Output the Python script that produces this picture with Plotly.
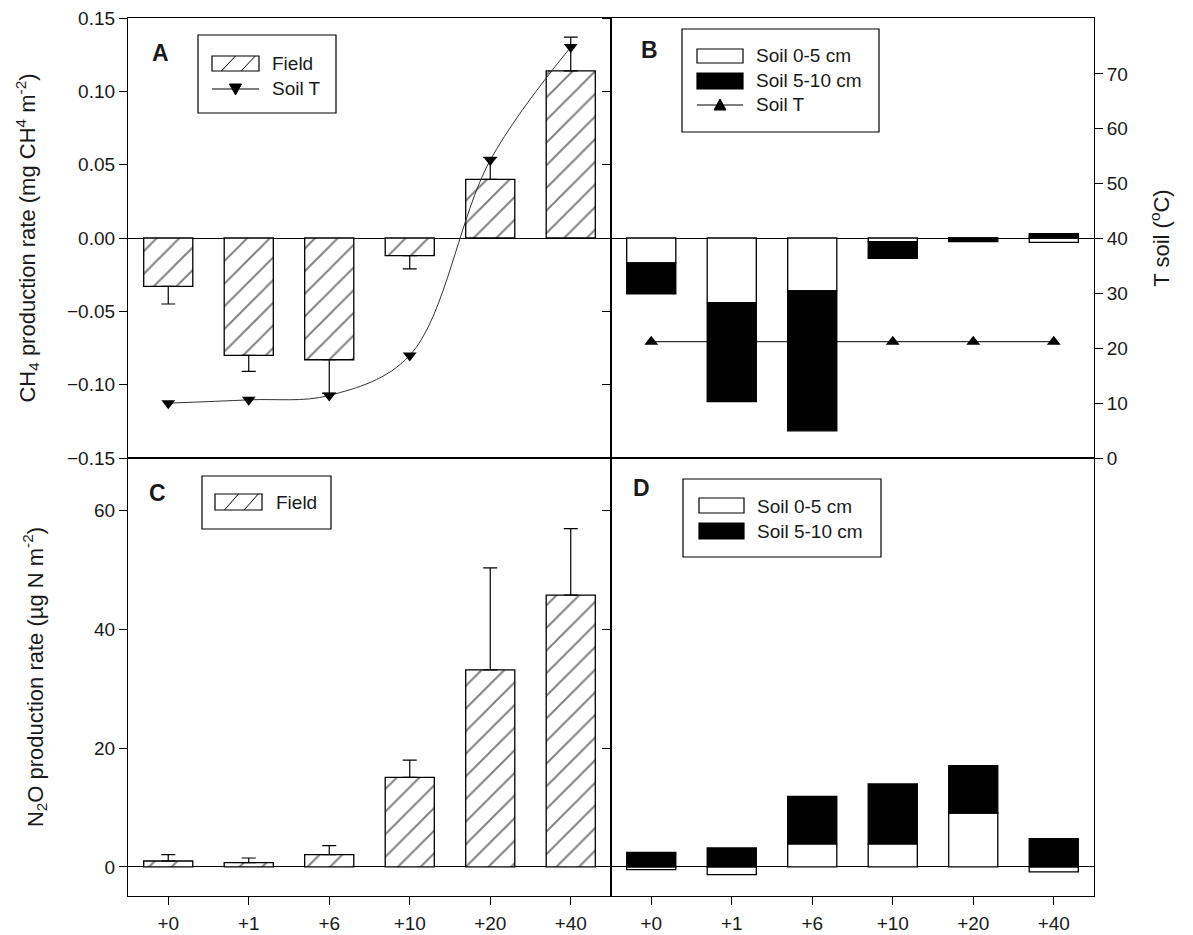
import plotly.graph_objects as go

# ---------------- data ----------------
categories = ["+0", "+1", "+6", "+10", "+20", "+40"]

# Panel A: CH4 field production + soil temperature
ch4_field = [-0.033, -0.080, -0.083, -0.012, 0.040, 0.114]
ch4_field_err = [0.012, 0.011, 0.023, 0.009, 0.015, 0.023]
soil_t_field = [10.0, 10.6, 11.4, 18.7, 54.3, 74.9]

# Panel B: CH4 soil cores (stacked) + soil temperature
ch4_soil_0_5 = [-0.017, -0.044, -0.036, -0.0025, 0.0, -0.003]
ch4_soil_5_10 = [-0.021, -0.0675, -0.0955, -0.0114, -0.0025, 0.003]
soil_t_cores = [21.2, 21.2, 21.2, 21.2, 21.2, 21.2]

# Panel C: N2O field production
n2o_field = [1.0, 0.73, 2.07, 15.1, 33.2, 45.8]
n2o_field_err = [1.07, 0.77, 1.53, 2.9, 17.2, 11.2]

# Panel D: N2O soil cores (stacked)
n2o_soil_0_5 = [-0.45, -1.3, 3.87, 3.87, 9.07, -0.84]
n2o_soil_5_10 = [2.46, 3.2, 8.0, 10.1, 8.0, 4.76]

# ---------------- styling ----------------
FONT = "Liberation Sans, Arial, sans-serif"
TXT = "#1a1a1a"
LW = 1.3
TICKF = 19
TITLEF = 22
LEGF = 19

W, H = 1193, 935
L, R, T, B = 128, 1094, 18, 896
YB = (896 - 458) / (B - T)


def px(x):
    return (x - L) / (R - L)


def py(y):
    return (B - y) / (B - T)


up_err = [e if v >= 0 else 0 for v, e in zip(ch4_field, ch4_field_err)]
dn_err = [e if v < 0 else 0 for v, e in zip(ch4_field, ch4_field_err)]

hatch = dict(shape="/", fgcolor="black", bgcolor="white", size=16, solidity=0.12)

fig = go.Figure()

# A
fig.add_trace(go.Bar(x=categories, y=ch4_field, width=0.61, xaxis="x", yaxis="y",
                     marker=dict(color="white", pattern=hatch, line=dict(color="black", width=LW)),
                     error_y=dict(type="data", symmetric=False, array=up_err, arrayminus=dn_err,
                                  color="black", thickness=1.2, width=7),
                     name="Field", showlegend=False))
fig.add_trace(go.Scatter(x=categories, y=soil_t_field, xaxis="x", yaxis="y5",
                         mode="lines+markers", line=dict(color="#333333", width=1, shape="spline"),
                         marker=dict(symbol="triangle-down", size=12, color="black"),
                         name="Soil T", showlegend=False))

# B
fig.add_trace(go.Bar(x=categories, y=ch4_soil_0_5, width=0.61, xaxis="x2", yaxis="y2",
                     marker=dict(color="white", line=dict(color="black", width=LW)),
                     name="Soil 0-5 cm", showlegend=False))
fig.add_trace(go.Bar(x=categories, y=ch4_soil_5_10, width=0.61, xaxis="x2", yaxis="y2",
                     marker=dict(color="black", line=dict(color="black", width=LW)),
                     name="Soil 5-10 cm", showlegend=False))
fig.add_trace(go.Scatter(x=categories, y=soil_t_cores, xaxis="x2", yaxis="y6",
                         mode="lines+markers", line=dict(color="black", width=1),
                         marker=dict(symbol="triangle-up", size=12, color="black"),
                         name="Soil T", showlegend=False))

# C
fig.add_trace(go.Bar(x=categories, y=n2o_field, width=0.61, xaxis="x3", yaxis="y3",
                     marker=dict(color="white", pattern=hatch, line=dict(color="black", width=LW)),
                     error_y=dict(type="data", symmetric=False, array=n2o_field_err,
                                  arrayminus=[0] * len(n2o_field_err),
                                  color="black", thickness=1.2, width=7),
                     name="Field", showlegend=False))

# D
fig.add_trace(go.Bar(x=categories, y=n2o_soil_0_5, width=0.61, xaxis="x4", yaxis="y4",
                     marker=dict(color="white", line=dict(color="black", width=LW)),
                     name="Soil 0-5 cm", showlegend=False))
fig.add_trace(go.Bar(x=categories, y=n2o_soil_5_10, width=0.61, xaxis="x4", yaxis="y4",
                     marker=dict(color="black", line=dict(color="black", width=LW)),
                     name="Soil 5-10 cm", showlegend=False))

axis_common = dict(showline=True, linecolor="black", linewidth=LW, mirror=True, automargin=False,
                   showgrid=False, tickcolor="black", tickfont=dict(family=FONT, size=TICKF, color=TXT))

xcat_hidden = dict(axis_common, type="category", ticks="", showticklabels=False,
                   range=[-0.5, 5.5])
xcat_shown = dict(axis_common, type="category", ticks="outside", ticklen=8, tickwidth=1.2,
                  ticklabelstandoff=2, range=[-0.5, 5.5])

ych4 = dict(axis_common, range=[-0.15, 0.15], tickvals=[-0.15, -0.10, -0.05, 0, 0.05, 0.10, 0.15],
            tickformat=".2f", ticks="outside", ticklen=8, tickwidth=1.2,
            zeroline=True, zerolinecolor="black", zerolinewidth=LW)
yn2o = dict(axis_common, range=[-4.9, 68.9], tickvals=[0, 20, 40, 60],
            ticks="outside", ticklen=8, tickwidth=1.2,
            zeroline=True, zerolinecolor="black", zerolinewidth=LW)

fig.update_layout(
    width=W, height=H, autosize=False,
    margin=dict(l=L, r=W - R, t=T, b=H - B),
    plot_bgcolor="white", paper_bgcolor="white",
    barmode="relative", bargap=0.39,
    font=dict(family=FONT, size=18, color=TXT),
    showlegend=False,
    xaxis=dict(xcat_hidden, domain=[0, 0.5], anchor="y"),
    yaxis=dict(ych4, domain=[YB, 1], anchor="x",
               title=dict(text="CH<sub>4</sub> production rate (mg CH<sup>4</sup> m<sup>-2</sup>)",
                          font=dict(family=FONT, size=TITLEF, color=TXT), standoff=25)),
    xaxis2=dict(xcat_hidden, domain=[0.5, 1], anchor="y2"),
    yaxis2=dict(ych4, domain=[YB, 1], anchor="x2", showticklabels=False),
    xaxis3=dict(xcat_shown, domain=[0, 0.5], anchor="y3"),
    yaxis3=dict(yn2o, domain=[0, YB], anchor="x3",
                title=dict(text="N<sub>2</sub>O production rate (µg N m<sup>-2</sup>)",
                           font=dict(family=FONT, size=TITLEF, color=TXT), standoff=44)),
    xaxis4=dict(xcat_shown, domain=[0.5, 1], anchor="y4"),
    yaxis4=dict(yn2o, domain=[0, YB], anchor="x4", showticklabels=False),
    yaxis5=dict(overlaying="y", anchor="x", range=[0, 80.2], visible=False),
    yaxis6=dict(overlaying="y2", anchor="x2", side="right", range=[0, 80.2], automargin=False,
                tickvals=[0, 10, 20, 30, 40, 50, 60, 70], ticks="outside", ticklen=8, tickwidth=1.2,
                tickcolor="black", showgrid=False, zeroline=False, showline=False,
                tickfont=dict(family=FONT, size=TICKF, color=TXT),
                title=dict(text="T soil (<sup>o</sup>C)", font=dict(family=FONT, size=TITLEF, color=TXT),
                           standoff=26)),
)

# ---------------- hand-drawn legends & panel letters ----------------
shapes = []
annotations = []


def rect(x0, y0, x1, y1, fill="white", lw=1.2):
    shapes.append(dict(type="rect", xref="paper", yref="paper", x0=px(x0), x1=px(x1),
                       y0=py(y1), y1=py(y0), fillcolor=fill, line=dict(color="black", width=lw),
                       layer="above"))


def seg(x0, y0, x1, y1, lw=1.0):
    shapes.append(dict(type="line", xref="paper", yref="paper", x0=px(x0), x1=px(x1),
                       y0=py(y0), y1=py(y1), line=dict(color="black", width=lw), layer="above"))


def tri(x, y, down):
    path = "M-6,5L6,5L0,-6Z" if down else "M-6,-5L6,-5L0,6Z"
    shapes.append(dict(type="path", xref="paper", yref="paper", xsizemode="pixel", ysizemode="pixel",
                       xanchor=px(x), yanchor=py(y), path=path, fillcolor="black",
                       line=dict(color="black", width=1), layer="above"))


def label(x, y, text, size=LEGF, bold=False, anchor="left"):
    annotations.append(dict(xref="paper", yref="paper", x=px(x), y=py(y), text=f"<b>{text}</b>" if bold else text,
                            showarrow=False, xanchor=anchor, yanchor="middle",
                            font=dict(family=FONT, size=size, color=TXT)))


def hatched_swatch(x0, y0, x1, y1):
    rect(x0, y0, x1, y1)
    w = x1 - x0
    seg(x0 + 0.2 * w, y1, x0 + 0.5 * w, y0)
    seg(x0 + 0.62 * w, y1, x0 + 0.92 * w, y0)


# Legend A
rect(198, 35, 336, 113)
hatched_swatch(212, 56, 259, 71)
seg(212, 89, 259, 89)
tri(235.5, 89, True)
label(270, 63, "Field")
label(270, 89, "Soil T")

# Legend B
rect(682, 29, 879, 132)
rect(697, 49, 743, 63)
rect(697, 73, 743, 89, fill="black")
seg(697, 105, 743, 105)
tri(720, 105, False)
label(754, 56, "Soil 0-5 cm")
label(754, 81, "Soil 5-10 cm")
label(754, 105, "Soil T")

# Legend C
rect(202, 476, 331, 529)
hatched_swatch(215, 494, 262, 510)
label(274, 502, "Field")

# Legend D
rect(683, 479, 881, 557)
rect(699, 498, 744, 513)
rect(699, 523, 744, 539, fill="black")
label(755, 506, "Soil 0-5 cm")
label(755, 531, "Soil 5-10 cm")

# panel letters
label(160, 53, "A", size=23, bold=True, anchor="center")
label(649, 50, "B", size=23, bold=True, anchor="center")
label(157, 493, "C", size=23, bold=True, anchor="center")
label(641, 488, "D", size=23, bold=True, anchor="center")

fig.update_layout(shapes=shapes, annotations=annotations)

fig.write_html("out.html")
